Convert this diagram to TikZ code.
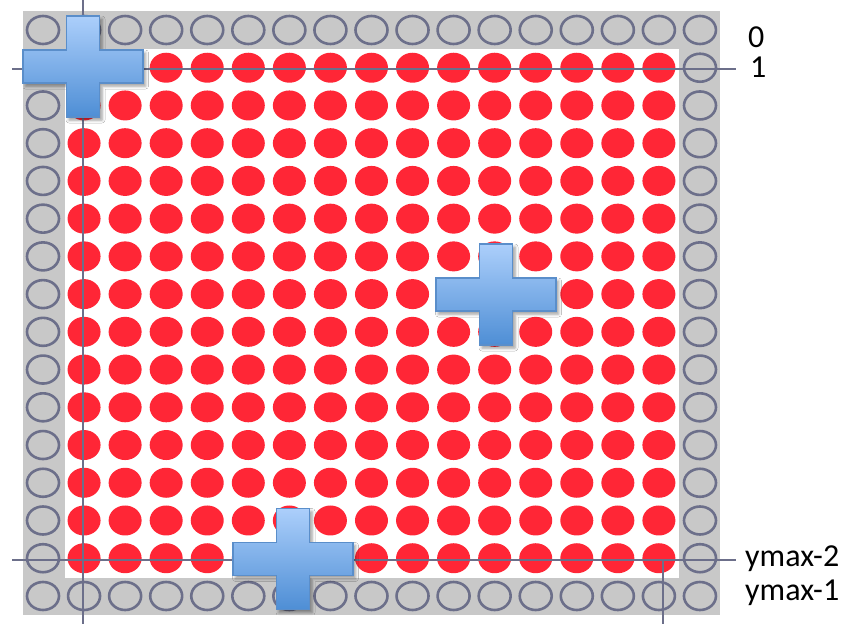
\documentclass[tikz,border=0pt]{standalone}
\usepackage{fontspec}
\setmainfont{Carlito}
\usetikzlibrary{shadows.blur}
\definecolor{gridgray}{RGB}{200,200,200}
\definecolor{ringcol}{RGB}{108,111,138}
\definecolor{dotred}{RGB}{255,38,54}
\definecolor{plustop}{RGB}{172,207,251}
\definecolor{plusbot}{RGB}{78,142,213}
\definecolor{plusedge}{RGB}{90,142,202}
\tikzset{
  ring/.style={draw=ringcol, line width=2.6pt},
  reddot/.style={fill=dotred},
  guide/.style={draw=ringcol, line width=1.5pt},
  plusstyle/.style={draw=plusedge, line width=1.3pt, top color=plustop, bottom color=plusbot,
    blur shadow={shadow xshift=2.5pt, shadow yshift=-3pt, shadow blur radius=3pt, shadow opacity=40}},
  lbl/.style={anchor=base west, inner sep=0pt, font=\fontsize{32}{38}\selectfont},
  pics/bigplus/.style={code={
    \path[plusstyle] (-16.5,-50.5) -- (16.5,-50.5) -- (16.5,-16.5) -- (60,-16.5) -- (60,16.5)
      -- (16.5,16.5) -- (16.5,50.5) -- (-16.5,50.5) -- (-16.5,16.5) -- (-60,16.5)
      -- (-60,-16.5) -- (-16.5,-16.5) -- cycle;
  }}
}
\begin{document}
\begin{tikzpicture}[x=1pt, y=-1pt]
\useasboundingbox (0,0) rectangle (851,624);
% background frames
\fill[gridgray] (23,11) rectangle (720,615);
\fill[white] (65,49) rectangle (679,578);
% border rings
\foreach \i in {0,...,16} {
  \draw[ring] ({43+41.06*\i},30) ellipse [x radius=16pt, y radius=14pt];
  \draw[ring] ({43+41.06*\i},596) ellipse [x radius=16pt, y radius=14pt];
}
\foreach \j in {1,...,14} {
  \draw[ring] (43,{30+37.73*\j}) ellipse [x radius=16pt, y radius=14pt];
  \draw[ring] (700,{30+37.73*\j}) ellipse [x radius=16pt, y radius=14pt];
}
% red dots
\foreach \i in {1,...,15} {
  \foreach \j in {1,...,14} {
    \fill[reddot] ({43+41.06*\i},{30+37.73*\j}) ellipse [x radius=16.5pt, y radius=15pt];
  }
}
% guide lines
\coordinate (h1a) at (12,69);
\coordinate (h1b) at (736,69);
\coordinate (h2a) at (12,560);
\coordinate (h2b) at (736,560);
\coordinate (v1a) at (83,0);
\coordinate (v1b) at (83,624);
\coordinate (v2a) at (663,560);
\coordinate (v2b) at (663,624);
\draw[guide] (h1a) -- (h1b);
\draw[guide] (h2a) -- (h2b);
\draw[guide] (v1a) -- (v1b);
\draw[guide] (v2a) -- (v2b);
% plus shapes
\pic at (83,66.5) {bigplus};
\pic at (496,294.5) {bigplus};
\pic at (293,559) {bigplus};
% labels
\node[lbl] (l0) at (748,47) {0};
\node[lbl] (l1) at (750,77) {1};
\node[lbl] (l2) at (745,566) {ymax-2};
\node[lbl] (l3) at (745,600) {ymax-1};
\end{tikzpicture}
\end{document}
